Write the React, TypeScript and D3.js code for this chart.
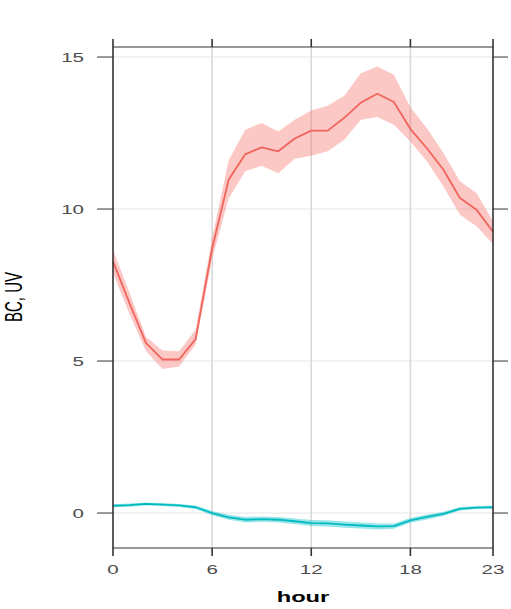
import React from "react";
import * as d3 from "d3";

const hours = d3.range(0, 24);
const bcMean = [8.28, 6.9, 5.59, 5.05, 5.05, 5.72, 8.7, 10.96, 11.8, 12.03, 11.9, 12.32, 12.58, 12.58, 13.0, 13.5, 13.79, 13.52, 12.63, 12.0, 11.29, 10.36, 9.98, 9.25];
const bcUpper = [8.66, 7.25, 5.79, 5.35, 5.32, 6.03, 9.05, 11.6, 12.61, 12.83, 12.55, 12.94, 13.24, 13.4, 13.73, 14.47, 14.69, 14.42, 13.35, 12.66, 11.84, 10.91, 10.53, 9.6];
const bcLower = [7.9, 6.55, 5.32, 4.74, 4.82, 5.54, 8.35, 10.35, 11.24, 11.42, 11.18, 11.65, 11.75, 11.9, 12.28, 12.94, 13.03, 12.77, 12.22, 11.57, 10.74, 9.81, 9.43, 8.85];
const uvMean = [0.24, 0.26, 0.3, 0.28, 0.25, 0.19, 0.0, -0.14, -0.22, -0.2, -0.22, -0.27, -0.33, -0.34, -0.38, -0.41, -0.44, -0.43, -0.24, -0.13, -0.03, 0.14, 0.18, 0.19];
const uvHalfWidth = [0.05, 0.05, 0.05, 0.05, 0.05, 0.06, 0.07, 0.08, 0.09, 0.09, 0.09, 0.09, 0.1, 0.1, 0.1, 0.1, 0.1, 0.09, 0.08, 0.08, 0.07, 0.06, 0.05, 0.05];
const xTicks = [0, 6, 12, 18, 23];
const yTicks = [0, 5, 10, 15];
const xGrid = [6, 12, 18];

const SX = 1.58;

export default function App() {
  const left = 113, right = 493, top = 47, bottom = 548;
  const x = d3.scaleLinear().domain([0, 23]).range([left, right]);
  const y = d3.scaleLinear().domain([-1.15, 15.33]).range([bottom, top]);

  const line = d3.line<number>().x((_, i) => x(hours[i])).y((d) => y(d));
  const area = d3
    .area<number>()
    .x((_, i) => x(hours[i]))
    .y0((_, i) => y(bcLower[i]))
    .y1((_, i) => y(bcUpper[i]));
  const uvArea = d3
    .area<number>()
    .x((_, i) => x(hours[i]))
    .y0((d, i) => y(d - uvHalfWidth[i]))
    .y1((d, i) => y(d + uvHalfWidth[i]));

  const font = "'Liberation Sans', Arial, sans-serif";
  const frame = "#333";

  return (
    <svg
      width={511}
      height={609}
      style={{ position: "fixed", left: 0, top: 0, background: "#fff" }}
    >
      <rect x={0} y={0} width={511} height={609} fill="#fff" />
      {/* grid */}
      {yTicks.map((t) => (
        <line key={"gy" + t} x1={left} x2={right} y1={y(t)} y2={y(t)} stroke="#e6e6e6" strokeWidth={1} />
      ))}
      {xGrid.map((t) => (
        <line key={"gx" + t} x1={x(t)} x2={x(t)} y1={top} y2={bottom} stroke="#d9d9d9" strokeWidth={1.6} />
      ))}
      {/* bands */}
      <path d={area(bcMean) || ""} fill="#F8766D" fillOpacity={0.4} />
      <path d={uvArea(uvMean) || ""} fill="#00BFC4" fillOpacity={0.4} />
      {/* lines */}
      <path d={line(bcMean) || ""} fill="none" stroke="#F0645C" strokeWidth={1.8} strokeLinejoin="round" />
      <path d={line(uvMean) || ""} fill="none" stroke="#00BCC2" strokeWidth={1.8} strokeLinejoin="round" />
      {/* frame */}
      <line x1={left} x2={right} y1={top} y2={top} stroke={frame} strokeWidth={1} />
      <line x1={left} x2={right} y1={bottom} y2={bottom} stroke={frame} strokeWidth={1} />
      <line x1={left} x2={left} y1={top} y2={bottom} stroke={frame} strokeWidth={1.6} />
      <line x1={right} x2={right} y1={top} y2={bottom} stroke={frame} strokeWidth={1.6} />
      {/* x ticks */}
      {xTicks.map((t) => (
        <g key={"xt" + t}>
          <line x1={x(t)} x2={x(t)} y1={top} y2={top - 8} stroke={frame} strokeWidth={1.6} />
          <line x1={x(t)} x2={x(t)} y1={bottom} y2={bottom + 8} stroke={frame} strokeWidth={1.6} />
          <text
            transform={`translate(${x(t)},574) scale(${SX},1)`}
            textAnchor="middle"
            fontFamily={font}
            fontSize={13}
            fill="#4d4d4d"
          >
            {t}
          </text>
        </g>
      ))}
      {/* y ticks */}
      {yTicks.map((t) => (
        <g key={"yt" + t}>
          <line x1={left - 16} x2={left} y1={y(t)} y2={y(t)} stroke={frame} strokeWidth={1} />
          <line x1={right} x2={right + 15} y1={y(t)} y2={y(t)} stroke={frame} strokeWidth={1} />
          <text
            transform={`translate(84,${y(t) + 5}) scale(${SX},1)`}
            textAnchor="end"
            fontFamily={font}
            fontSize={13}
            fill="#4d4d4d"
          >
            {t}
          </text>
        </g>
      ))}
      {/* axis titles */}
      <text
        transform={`translate(${(left + right) / 2},602) scale(${SX},1)`}
        textAnchor="middle"
        fontFamily={font}
        fontSize={15}
        fontWeight="bold"
        fill="#000"
      >
        hour
      </text>
      <text
        transform={`translate(22,297) scale(${SX},1) rotate(-90)`}
        textAnchor="middle"
        fontFamily={font}
        fontSize={15}
        fill="#000"
      >
        BC, UV
      </text>
    </svg>
  );
}
